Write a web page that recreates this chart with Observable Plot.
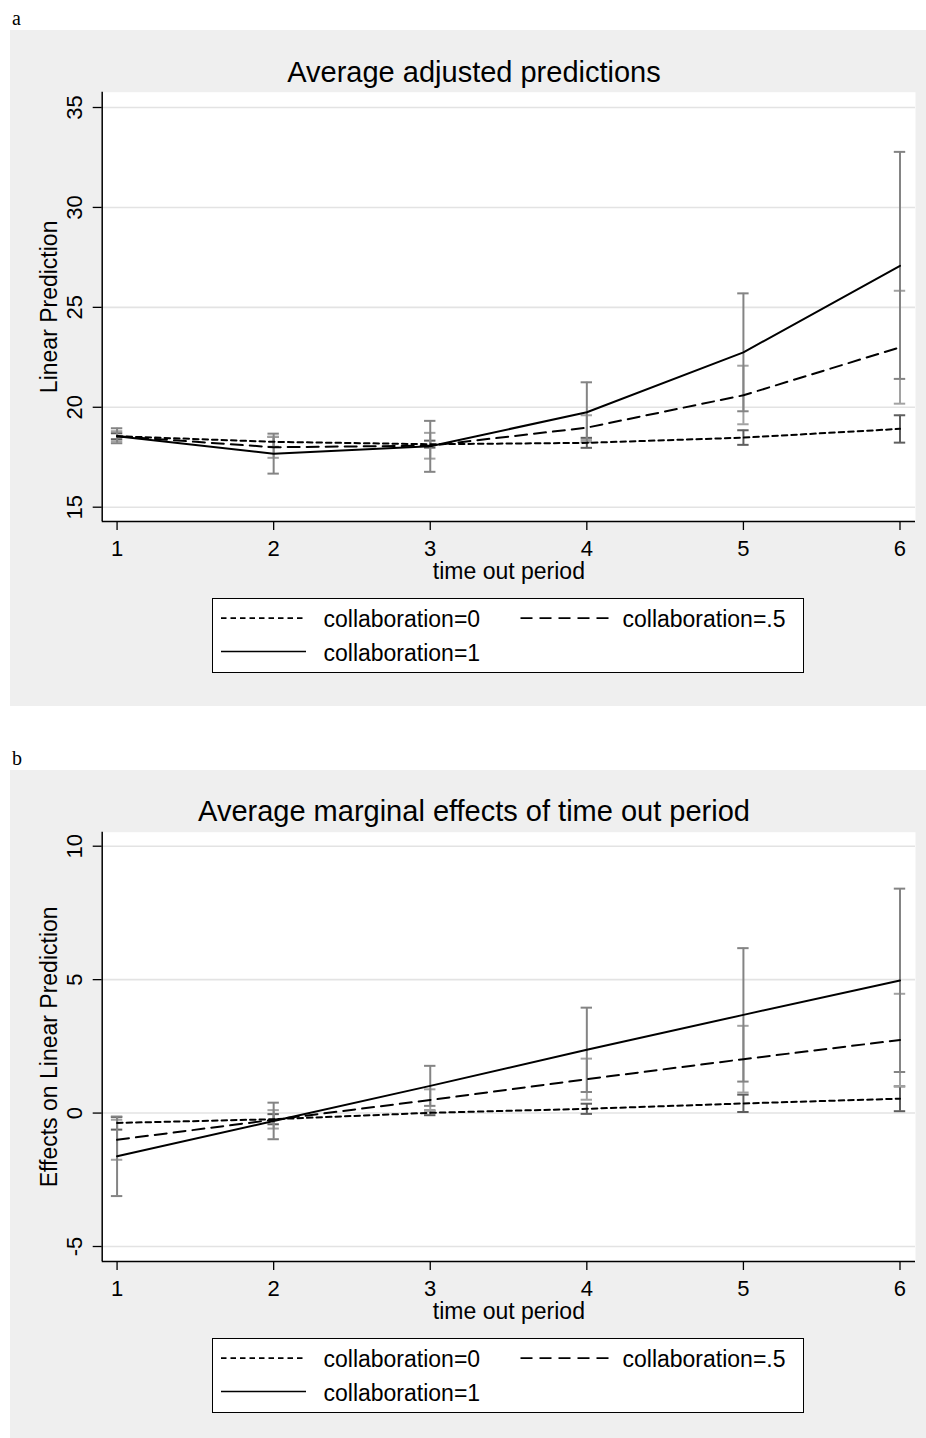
<!DOCTYPE html>
<html><head><meta charset="utf-8">
<script src="https://cdn.jsdelivr.net/npm/d3@7"></script>
<script src="https://cdn.jsdelivr.net/npm/@observablehq/plot@0.6"></script>
<style>
html,body{margin:0;padding:0;background:#fff;}
body{width:926px;height:1438px;position:relative;overflow:hidden;font-family:"Liberation Sans",Arial,Helvetica,sans-serif;color:#000;}
.panel{position:absolute;left:10px;width:916px;background:#efefef;}
.plabel{position:absolute;left:12px;font-family:"Liberation Serif","Times New Roman",serif;font-size:20px;line-height:20px;}
.title{position:absolute;left:0;width:928px;text-align:center;font-size:29px;line-height:29px;white-space:nowrap;}
.legend{position:absolute;left:201.7px;top:568.3px;width:592px;height:75px;box-sizing:border-box;border:1.5px solid #000;background:#fff;}
.legend svg{position:absolute;left:0;top:0;}
.ltext{position:absolute;font-size:23px;line-height:23px;white-space:nowrap;}
</style>
</head><body>
<div class="plabel" style="top:8.3px">a</div>
<div class="panel" id="pa" style="top:30px;height:676px"></div>
<div class="plabel" style="top:748.3px">b</div>
<div class="panel" id="pb" style="top:770px;height:668px"></div>
<script>
// ---------- data ----------
const periods = [1, 2, 3, 4, 5, 6];
const seriesNames = ["collaboration=0", "collaboration=.5", "collaboration=1"];
const xTitle = "time out period";

// Panel a: average adjusted predictions
const titleA = "Average adjusted predictions";
const yTitleA = "Linear Prediction";
const yTicksA = [15, 20, 25, 30, 35];
const predA0 = [18.55, 18.27, 18.15, 18.22, 18.48, 18.92];
const loA0   = [18.40, 18.02, 17.98, 17.97, 18.12, 18.23];
const hiA0   = [18.70, 18.52, 18.33, 18.47, 18.85, 19.60];
const predA5 = [18.55, 18.00, 18.08, 18.98, 20.60, 23.00];
const loA5   = [18.30, 17.47, 17.43, 18.36, 19.15, 20.18];
const hiA5   = [18.80, 18.52, 18.72, 19.60, 22.08, 25.83];
const predA1 = [18.55, 17.68, 18.05, 19.75, 22.75, 27.08];
const loA1   = [18.20, 16.68, 16.77, 18.25, 19.80, 21.42];
const hiA1   = [18.95, 18.68, 19.32, 21.25, 25.70, 32.78];

// Panel b: average marginal effects
const titleB = "Average marginal effects of time out period";
const yTitleB = "Effects on Linear Prediction";
const yTicksB = [-5, 0, 5, 10];
const effB0 = [-0.37, -0.23, 0.01, 0.16, 0.36, 0.54];
const loB0  = [-0.62, -0.42, -0.08, -0.03, 0.04, 0.07];
const hiB0  = [-0.15, -0.04, 0.10, 0.35, 0.69, 1.00];
const effB5 = [-1.00, -0.25, 0.49, 1.27, 2.02, 2.74];
const loB5  = [-1.75, -0.58, 0.09, 0.50, 0.77, 1.00];
const hiB5  = [-0.25, 0.11, 0.89, 2.04, 3.27, 4.47];
const effB1 = [-1.62, -0.30, 1.02, 2.37, 3.68, 4.97];
const loB1  = [-3.11, -0.98, 0.27, 0.79, 1.18, 1.54];
const hiB1  = [-0.13, 0.39, 1.77, 3.95, 6.18, 8.41];

// ---------- styles ----------
const dashFor = {"collaboration=0": "5.5,4", "collaboration=.5": "12,7", "collaboration=1": null};
const barFor  = {"collaboration=0": "#5e5e5e", "collaboration=.5": "#a2a2a2", "collaboration=1": "#848484"};

function rows(series) {
  const out = [];
  for (const [name, m, lo, hi] of series) {
    periods.forEach((p, i) => out.push({period: p, series: name, mean: m[i], lo: lo[i], hi: hi[i]}));
  }
  return out;
}

function chart({data, yDomain, yTicks, yTitle}) {
  const xDomain = [0.905, 6.099];
  const marks = [
    Plot.frame({fill: "white", stroke: "none"}),
    Plot.gridY(yTicks, {stroke: "#e3e3e3", strokeOpacity: 1, strokeWidth: 1.6})
  ];
  for (const s of seriesNames) {
    const d = data.filter(r => r.series === s);
    const st = {stroke: barFor[s], strokeWidth: 2};
    marks.push(Plot.ruleX(d, {x: "period", y1: "lo", y2: "hi", ...st}));
    marks.push(Plot.ruleY(d, {y: "lo", x1: "period", x2: "period", insetLeft: -5.7, insetRight: -5.7, ...st}));
    marks.push(Plot.ruleY(d, {y: "hi", x1: "period", x2: "period", insetLeft: -5.7, insetRight: -5.7, ...st}));
  }
  for (const s of seriesNames) {
    const d = data.filter(r => r.series === s);
    marks.push(Plot.line(d, {x: "period", y: "mean", stroke: "black", strokeWidth: 2, strokeDasharray: dashFor[s]}));
  }
  marks.push(Plot.ruleX([xDomain[0]], {stroke: "black", strokeWidth: 1.5}));
  marks.push(Plot.ruleY([yDomain[0]], {stroke: "black", strokeWidth: 1.5}));
  marks.push(Plot.axisX(periods, {tickSize: 9, tickPadding: 10, fontSize: 22, label: null, strokeWidth: 1.3, tickFormat: d => String(d)}));
  marks.push(Plot.axisY(yTicks, {tickSize: 9, tickPadding: 11, tickRotate: -90, fontSize: 22, label: null, strokeWidth: 1.3, tickFormat: d => String(d)}));
  marks.push(Plot.text([xTitle], {text: d => d, frameAnchor: "bottom", textAnchor: "middle", dy: 57, lineAnchor: "bottom", fontSize: 23}));
  marks.push(Plot.text([yTitle], {text: d => d, frameAnchor: "left", textAnchor: "middle", dx: -45.4, rotate: -90, lineAnchor: "bottom", fontSize: 23}));
  return Plot.plot({
    width: 916, height: 510,
    marginLeft: 91.7, marginRight: 11, marginTop: 11.7, marginBottom: 69,
    x: {domain: xDomain},
    y: {domain: yDomain},
    style: {background: "transparent", fontFamily: '"Liberation Sans", Arial, Helvetica, sans-serif', fontSize: "22px", color: "black", overflow: "visible"},
    marks
  });
}

function legend() {
  const box = document.createElement("div");
  box.className = "legend";
  const ns = "http://www.w3.org/2000/svg";
  const svg = document.createElementNS(ns, "svg");
  svg.setAttribute("width", 590); svg.setAttribute("height", 72);
  box.appendChild(svg);
  const slots = [
    {x1: 8, x2: 93, tx: 110.8, cy: 20.2},
    {x1: 307.5, x2: 397, tx: 409.8, cy: 20.2},
    {x1: 8, x2: 93, tx: 110.8, cy: 53.5}
  ];
  seriesNames.forEach((s, i) => {
    const sl = slots[i];
    const ln = document.createElementNS(ns, "line");
    ln.setAttribute("x1", sl.x1); ln.setAttribute("x2", sl.x2);
    ln.setAttribute("y1", sl.cy - 1); ln.setAttribute("y2", sl.cy - 1);
    ln.setAttribute("stroke", "black"); ln.setAttribute("stroke-width", 1.7);
    if (dashFor[s]) ln.setAttribute("stroke-dasharray", dashFor[s]);
    svg.appendChild(ln);
    const t = document.createElement("div");
    t.className = "ltext";
    t.style.left = sl.tx + "px";
    t.style.top = (sl.cy - 11.2) + "px";
    t.textContent = s;
    box.appendChild(t);
  });
  return box;
}

function panel(el, {title, titleTop, data, yDomain, yTicks, yTitle}) {
  const t = document.createElement("div");
  t.className = "title";
  t.style.top = titleTop + "px";
  t.textContent = title;
  el.appendChild(t);
  const p = chart({data, yDomain, yTicks, yTitle});
  p.style.position = "absolute";
  p.style.left = "0px"; p.style.top = "50px";
  el.appendChild(p);
  el.appendChild(legend());
}

panel(document.getElementById("pa"), {
  title: titleA, titleTop: 27.8,
  data: rows([[seriesNames[0], predA0, loA0, hiA0], [seriesNames[1], predA5, loA5, hiA5], [seriesNames[2], predA1, loA1, hiA1]]),
  yDomain: [14.284, 35.766], yTicks: yTicksA, yTitle: yTitleA
});
panel(document.getElementById("pb"), {
  title: titleB, titleTop: 26.8,
  data: rows([[seriesNames[0], effB0, loB0, hiB0], [seriesNames[1], effB5, loB5, hiB5], [seriesNames[2], effB1, loB1, hiB1]]),
  yDomain: [-5.562, 10.525], yTicks: yTicksB, yTitle: yTitleB
});
</script>
</body></html>
